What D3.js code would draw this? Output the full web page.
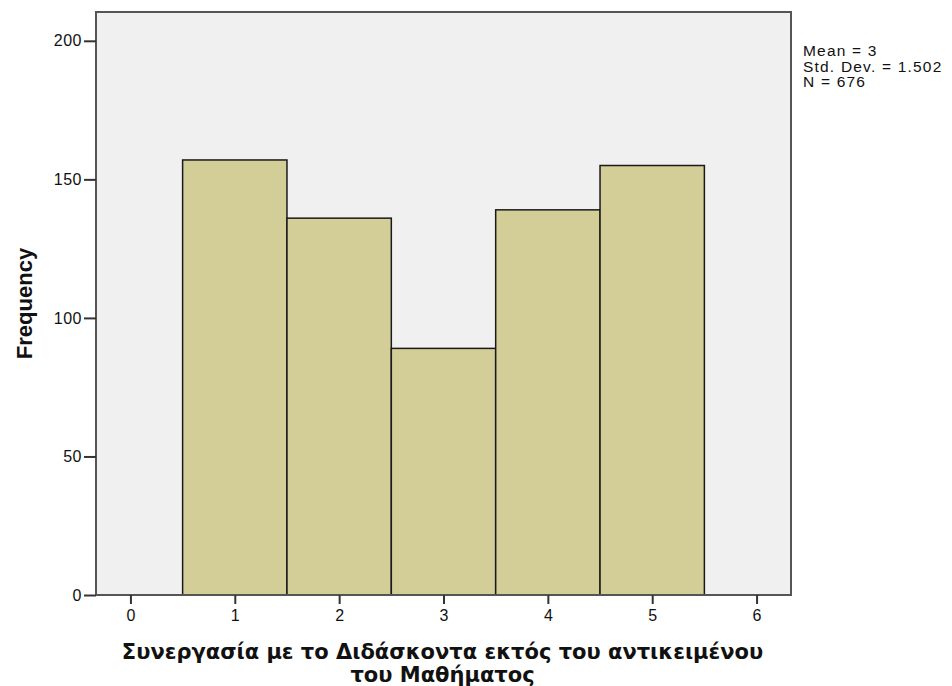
<!DOCTYPE html>
<html>
<head>
<meta charset="utf-8">
<script src="https://cdn.jsdelivr.net/npm/d3@7"></script>
<style>
    body { margin: 0; background: #fff; }
    svg text { font-family: "Liberation Sans", Arial, sans-serif; fill: #111; }
</style>
</head>
<body>
<div id="vis"></div>
<script>
// histogram bins (value -> frequency)
const binCenters = [1, 2, 3, 4, 5];
const frequencies = [157, 136, 89, 139, 155];
const xTicks = [0, 1, 2, 3, 4, 5, 6];
const yTicks = [0, 50, 100, 150, 200];
const statsLines = ["Mean = 3", "Std. Dev. = 1.502", "N = 676"];
const xTitleLines = ["Συνεργασία με το Διδάσκοντα εκτός του αντικειμένου", "του Μαθήματος"];
const yTitle = "Frequency";

function vis() {
    const width = 952;
    const height = 686;
    const margin = { left: 96, top: 12, right: 161, bottom: 91 };

    const svg = d3.select("#vis")
        .append("svg")
        .attr("width", width)
        .attr("height", height);

    const xScale = d3.scaleLinear()
        .domain([-0.33, 6.33])
        .range([margin.left, width - margin.right]);

    const yScale = d3.scaleLinear()
        .domain([0, 210.4])
        .range([height - margin.bottom, margin.top]);

    // plot background
    svg.append("rect")
        .attr("x", margin.left)
        .attr("y", margin.top)
        .attr("width", width - margin.left - margin.right)
        .attr("height", height - margin.top - margin.bottom)
        .attr("fill", "#f0f0f0");

    svg.selectAll(".bar")
        .data(binCenters.map((c, i) => ({ c, v: frequencies[i] })))
        .join("rect")
            .attr("class", "bar")
            .attr("x", d => xScale(d.c - 0.5))
            .attr("y", d => yScale(d.v))
            .attr("width", d => xScale(d.c + 0.5) - xScale(d.c - 0.5))
            .attr("height", d => yScale(0) - yScale(d.v))
            .attr("fill", "#d3ce98")
            .attr("stroke", "#1a1a1a")
            .attr("stroke-width", 1.5);

    // frame
    svg.append("rect")
        .attr("x", margin.left)
        .attr("y", margin.top)
        .attr("width", width - margin.left - margin.right)
        .attr("height", height - margin.top - margin.bottom)
        .attr("fill", "none")
        .attr("stroke", "#555")
        .attr("stroke-width", 2);

    // y axis
    const yAxis = svg.append("g")
        .attr("transform", `translate(${margin.left}, 0)`)
        .call(d3.axisLeft(yScale).tickValues(yTicks).tickSize(12).tickPadding(2));
    yAxis.select(".domain").remove();
    yAxis.selectAll(".tick line").attr("stroke", "#333").attr("stroke-width", 2);
    yAxis.selectAll(".tick text")
        .style("font-size", "16px")
        .style("font-family", "Liberation Sans, Arial, sans-serif")
        .style("letter-spacing", "0.5px")
        .attr("fill", "#111");

    // x axis
    const xAxis = svg.append("g")
        .attr("transform", `translate(0, ${yScale(0)})`)
        .call(d3.axisBottom(xScale).tickValues(xTicks).tickFormat(d3.format("d")).tickSize(9).tickPadding(6));
    xAxis.select(".domain").remove();
    xAxis.selectAll(".tick line").attr("stroke", "#333").attr("stroke-width", 2);
    xAxis.selectAll(".tick text")
        .style("font-size", "16px")
        .style("font-family", "Liberation Sans, Arial, sans-serif")
        .attr("fill", "#111");

    // stats box
    svg.append("text")
        .attr("x", width - margin.right + 12)
        .attr("y", 56)
        .style("font-size", "15.5px")
        .style("letter-spacing", "1.2px")
        .selectAll("tspan")
        .data(statsLines)
        .join("tspan")
            .attr("x", width - margin.right + 12)
            .attr("dy", (_, i) => i === 0 ? 0 : "15.6px")
            .text(d => d);

    // axis titles
    svg.append("text")
        .attr("transform", `translate(32, ${(margin.top + height - margin.bottom) / 2}) rotate(-90)`)
        .attr("text-anchor", "middle")
        .style("font-size", "22px")
        .style("font-weight", 700)
        .text(yTitle);

    const cx = (margin.left + width - margin.right) / 2 - 1;
    svg.append("text")
        .attr("text-anchor", "middle")
        .attr("y", 659)
        .style("font-family", "DejaVu Sans, Verdana, sans-serif")
        .style("font-size", "21px")
        .style("font-weight", 700)
        .selectAll("tspan")
        .data(xTitleLines)
        .join("tspan")
            .attr("x", cx)
            .attr("dy", (_, i) => i === 0 ? 0 : "23px")
            .text(d => d);
}

vis();
</script>
</body>
</html>
